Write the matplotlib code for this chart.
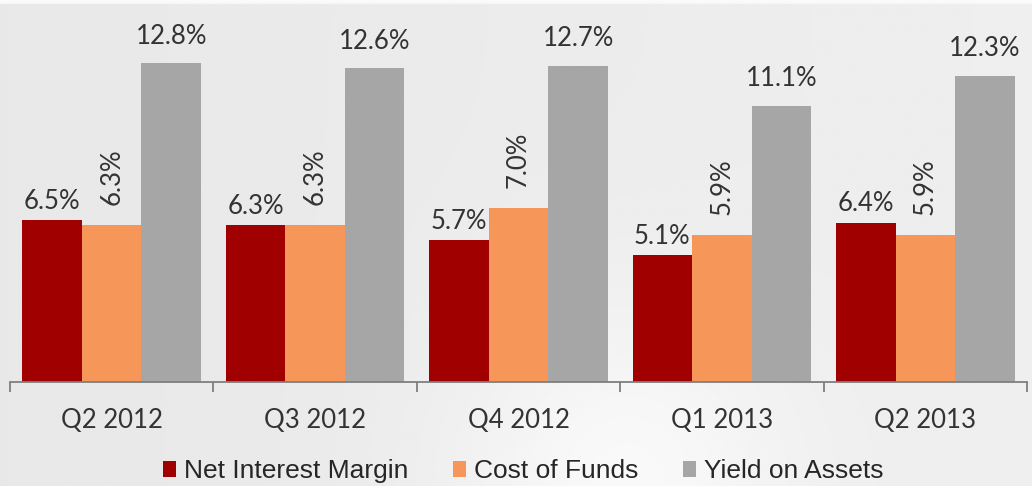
import matplotlib
matplotlib.use('Agg')
import matplotlib.pyplot as plt
import numpy as np
from matplotlib.patches import Patch

quarters = ["Q2 2012", "Q3 2012", "Q4 2012", "Q1 2013", "Q2 2013"]
net_interest_margin = [6.5, 6.3, 5.7, 5.1, 6.4]
cost_of_funds = [6.3, 6.3, 7.0, 5.9, 5.9]
yield_on_assets = [12.8, 12.6, 12.7, 11.1, 12.3]
series_names = ["Net Interest Margin", "Cost of Funds", "Yield on Assets"]

colors = ['#A00000', '#F79659', '#A6A6A6']
label_font = dict(family='Lato', fontweight='normal', fontsize=18.5, color='#333333')
tick_font = dict(family='Lato', fontweight='normal', fontsize=18.5, color='#333333')

W, H = 1032, 486
fig = plt.figure(figsize=(W / 100, H / 100), dpi=100)

# soft gray background with a lighter patch near bottom centre-right
bg = fig.add_axes([0, 0, 1, 1], zorder=0)
yy, xx = np.mgrid[0:1:200j, 0:1:400j]
shade = 0.91 + 0.025 * xx + 0.05 * np.exp(-((xx - 0.6) ** 2) / 0.03 - ((yy - 1.0) ** 2) / 0.15)
shade[:2, :] = 0.98
bg.imshow(np.clip(shade, 0, 1), cmap='gray', vmin=0, vmax=1, aspect='auto', extent=[0, 1, 0, 1])
bg.axis('off')

# axes placed in pixels: baseline at y=382, 24.9 px per percent
left, right = 10, 1027
base = 382
ymax = 14
px_per = 24.9
ax = fig.add_axes([left / W, (H - base) / H, (right - left) / W, ymax * px_per / H], zorder=1)
ax.patch.set_alpha(0)

x = np.arange(len(quarters))
bw = 0.293
all_series = [net_interest_margin, cost_of_funds, yield_on_assets]
offsets = [0.25, 0.8, 0.58]
for i, (vals, c) in enumerate(zip(all_series, colors)):
    pos = x + (i - 1) * bw
    ax.bar(pos, vals, width=bw, color=c, edgecolor='none')
    for p, v in zip(pos, vals):
        rot = 90 if i == 1 else 0
        ax.text(p, v + offsets[i], f"{v:.1f}%", rotation=rot, ha='center', va='bottom', **label_font)

ax.set_xlim(-0.5, len(quarters) - 0.5)
ax.set_ylim(0, ymax)
for s in ['top', 'right', 'left']:
    ax.spines[s].set_visible(False)
ax.spines['bottom'].set_color('#7F7F7F')
ax.spines['bottom'].set_linewidth(1.3)
ax.set_yticks([])
ax.set_xticks(np.arange(len(quarters) + 1) - 0.5)
ax.set_xticklabels([])
ax.set_xticks(x, minor=True)
ax.set_xticklabels(quarters, minor=True, **tick_font)
ax.tick_params(axis='x', which='major', direction='out', length=7, width=1.3, color='#7F7F7F')
ax.tick_params(axis='x', which='minor', length=0, pad=19)

handles = [Patch(facecolor=c, edgecolor='none') for c in colors]
fig.legend(handles, series_names, loc='center', bbox_to_anchor=(0.507, 1 - 471 / H),
           ncol=3, frameon=False, handlelength=0.5, handleheight=0.55,
           handletextpad=0.3, columnspacing=1.7,
           prop=dict(family='Liberation Sans', size=19))
for t in fig.legends[0].get_texts():
    t.set_color('#262626')

plt.savefig('out.png', dpi=100)
